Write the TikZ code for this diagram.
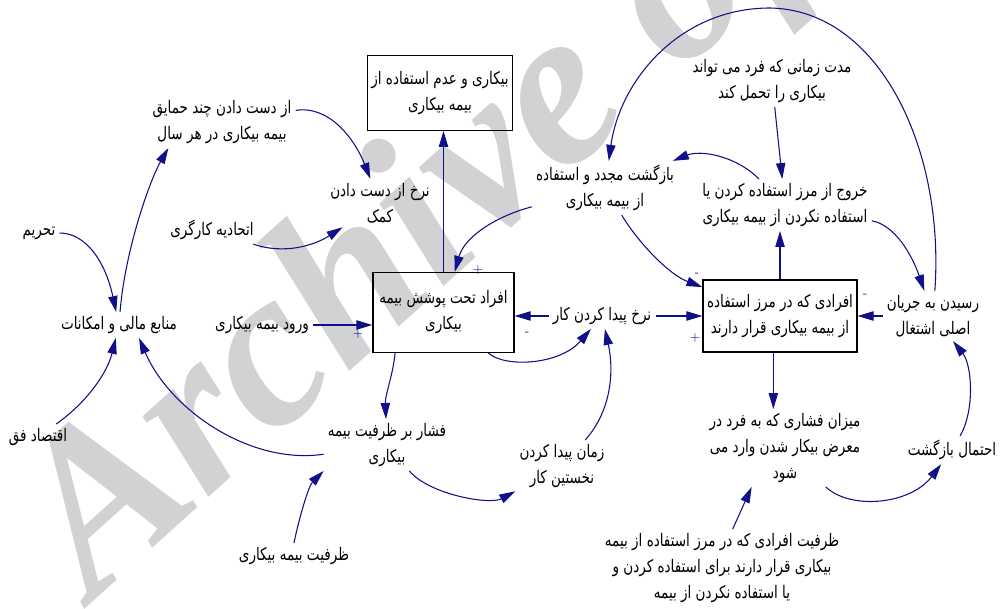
\documentclass[tikz,border=0pt]{standalone}
\usepackage{fontspec}
\usetikzlibrary{arrows.meta}
\newfontfamily\farsifont[Script=Arabic,FakeStretch=0.78]{DejaVu Sans}
\newfontfamily\wmfont{Liberation Serif}
\TeXXeTstate=1
\newcommand\fa[1]{\beginR #1\endR}
\definecolor{linkblue}{RGB}{16,16,136}
\definecolor{wmgray}{RGB}{210,210,212}

\begin{document}
\begin{tikzpicture}[x=0.75pt,y=-0.75pt,
  var/.style={font=\farsifont\fontsize{13}{19.5}\selectfont,align=center,inner sep=3pt},
  stock/.style={var,draw,line width=0.9pt},
  link/.style={draw=linkblue,line width=0.8pt,-{Triangle[length=12pt,width=7pt]}},
  sign/.style={text=linkblue,font=\fontsize{10}{10}\selectfont,inner sep=0pt}]
\useasboundingbox (0,0) rectangle (1003,609);
\clip (0,0) rectangle (1003,609);
\node[rotate=42,anchor=base west,text=wmgray,font=\wmfont\bfseries\itshape\fontsize{170}{170}\selectfont] (wm) at (90,605) {Archive of SID};

\node[stock,minimum width=106.5pt,minimum height=56pt] (boxtop) at (440,93) {\fa{بیکاری و عدم استفاده از}\\\fa{بیمه بیکاری}};
\node[stock,minimum width=105.75pt,minimum height=60pt] (boxmid) at (443.5,312.5) {\fa{افراد تحت پوشش بیمه}\\\fa{بیکاری}};
\node[stock,minimum width=108pt,minimum height=54pt] (boxright) at (780,316) {\fa{افرادی که در مرز استفاده}\\\fa{از بیمه بیکاری قرار دارند}};

\node[var] (losshist) at (222,122) {\fa{از دست دادن چند حمایق}\\\fa{بیمه بیکاری در هر سال}};
\node[var] (rateloss) at (380,203) {\fa{نرخ از دست دادن}\\\fa{کمک}};
\node[var] (union) at (212,230) {\fa{اتحادیه کارگری}};
\node[var] (sanction) at (39,233) {\fa{تحریم}};
\node[var] (resources) at (119,325) {\fa{منابع مالی و امکانات}};
\node[var] (entry) at (262,325) {\fa{ورود بیمه بیکاری}};
\node[var] (econ) at (38,437) {\fa{اقتصاد فق}};
\node[var] (findrate) at (602,316) {\fa{نرخ پیدا کردن کار}};
\node[var] (reuse) at (605,188) {\fa{بازگشت مجدد و استفاده}\\\fa{از بیمه بیکاری}};
\node[var] (dur) at (772,81) {\fa{مدت زمانی که فرد می تواند}\\\fa{بیکاری را تحمل کند}};
\node[var] (exit) at (785,205) {\fa{خروج از مرز استفاده کردن یا}\\\fa{استفاده نکردن از بیمه بیکاری}};
\node[var] (mainflow) at (933,316) {\fa{رسیدن به جریان}\\\fa{اصلی اشتغال}};
\node[var] (probret) at (952,450) {\fa{احتمال بازگشت}};
\node[var] (shock) at (785,448) {\fa{میزان فشاری که به فرد در}\\\fa{معرض بیکار شدن وارد می}\\\fa{شود}};
\node[var] (pressure) at (387,445) {\fa{فشار بر ظرفیت بیمه}\\\fa{بیکاری}};
\node[var] (firstjob) at (562,466) {\fa{زمان پیدا کردن}\\\fa{نخستین کار}};
\node[var] (capacity) at (294,556) {\fa{ظرفیت بیمه بیکاری}};
\node[var] (capnote) at (722,568) {\fa{ظرفیت افرادی که در مرز استفاده از بیمه}\\\fa{بیکاری قرار دارند برای استفاده کردن و}\\\fa{یا استفاده نکردن از بیمه}};

\draw[link] (losshist) .. controls (330,105) and (355,140) .. (rateloss);
\draw[link] (union) .. controls (285,255) and (315,245) .. (rateloss);
\draw[link] (boxmid.north) -- (boxmid.north |- boxtop.south);
\draw[link] (reuse) .. controls (500,215) and (465,235) .. (boxmid);
\draw[link] (entry.east) -- (entry.east -| boxmid.west);
\draw[link] (findrate.west) -- (findrate.west -| boxmid.east);
\draw[link] (findrate.east) -- (findrate.east -| boxright.west);
\draw[link] (boxmid) .. controls (505,368) and (560,365) .. (findrate);
\draw[link] (firstjob) .. controls (612,410) and (614,370) .. (findrate);
\draw[link] (pressure) .. controls (430,495) and (490,505) .. (firstjob);
\draw[link] (boxmid.220) .. controls (393,375) and (385,395) .. (pressure);
\draw[link] (pressure) .. controls (250,465) and (170,410) .. ([xshift=15pt]resources.south);
\draw[link] (capacity.north) .. controls +(5,-25) and +(-15,15) .. (pressure.south west);
\draw[link] (econ) .. controls (90,400) and (108,370) .. (resources);
\draw[link] (sanction) .. controls (85,233) and (105,260) .. (resources);
\draw[link] (resources) .. controls (125,250) and (150,180) .. ([xshift=15pt]losshist.south west);
\draw[link] (reuse) .. controls (640,245) and (670,275) .. (boxright);
\draw[link] (exit) .. controls (735,155) and (700,150) .. (reuse);
\draw[link] (dur) -- (exit);
\draw[link] (boxright.north) -- (boxright.north |- exit.south);
\draw[link] (exit) .. controls (895,225) and (912,255) .. (mainflow);
\draw[link] (mainflow) .. controls (945,150) and (880,10) .. (770,8) .. controls (680,8) and (620,80) .. (reuse);
\draw[link] (mainflow.west) -- (mainflow.west -| boxright.east);
\draw[link] ([xshift=-5pt]boxright.south) -- ([xshift=-5pt]boxright.south |- shock.north);
\draw[link] (shock) .. controls (850,510) and (910,505) .. (probret);
\draw[link] (probret) .. controls (975,410) and (972,365) .. (mainflow);
\draw[link] ([xshift=8pt]capnote.north) -- ([xshift=-25pt]shock.south);

\node[sign] (s1) at (478,270) {+};
\node[sign] (s2) at (358,334) {+};
\node[sign] (s3) at (527,334) {-};
\node[sign] (s4) at (697,275) {-};
\node[sign] (s5) at (695,338) {+};
\node[sign] (s6) at (865,296) {-};
\end{tikzpicture}
\end{document}
